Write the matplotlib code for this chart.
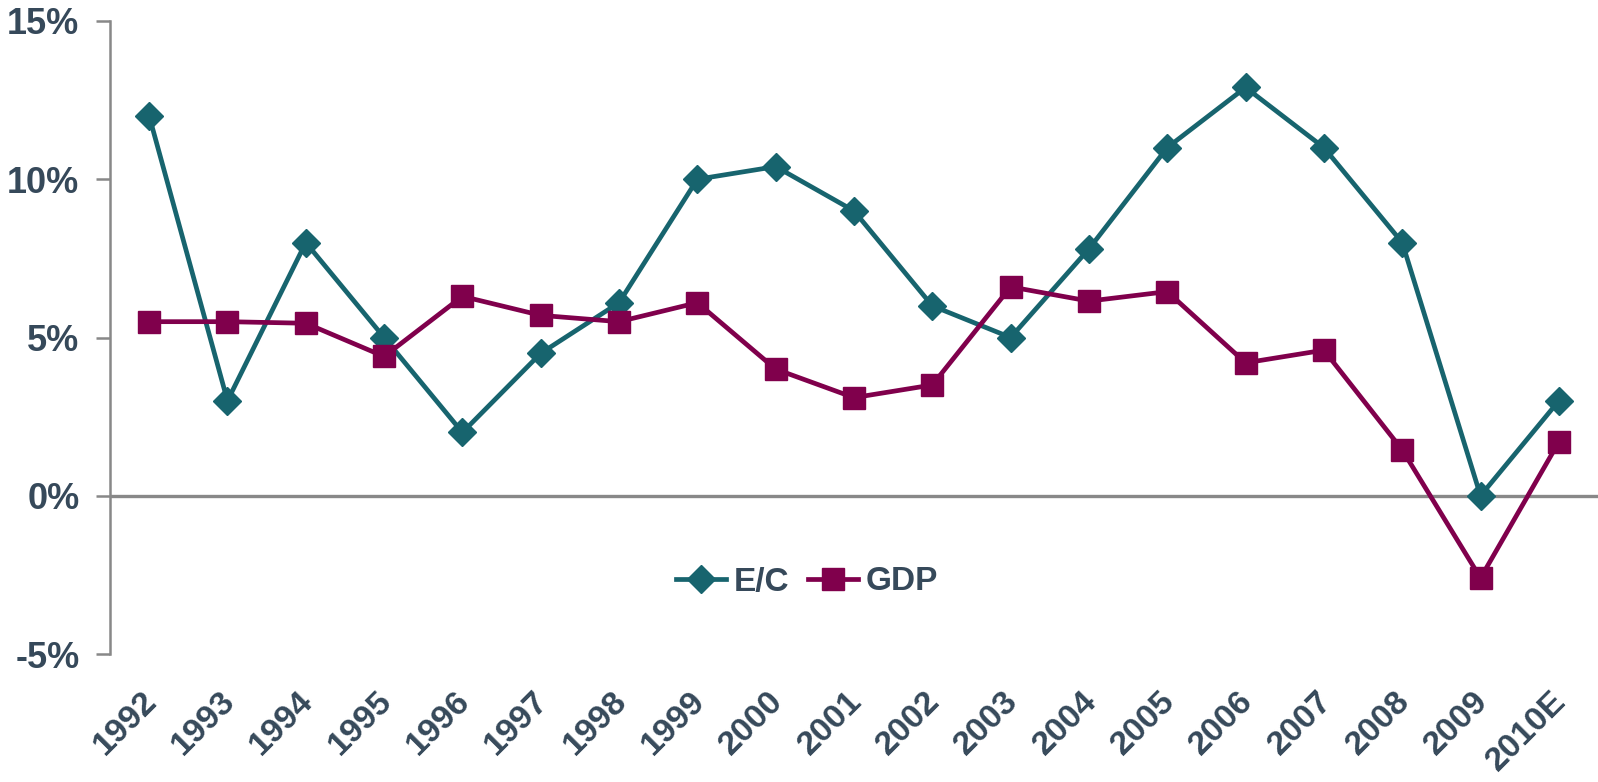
import matplotlib
matplotlib.use("Agg")
import matplotlib.pyplot as plt
from matplotlib.transforms import ScaledTranslation

# ---------- données ----------
years = ["1992", "1993", "1994", "1995", "1996", "1997", "1998", "1999", "2000",
         "2001", "2002", "2003", "2004", "2005", "2006", "2007", "2008", "2009", "2010E"]
ec = [12.0, 3.0, 8.0, 5.0, 2.0, 4.5, 6.1, 10.0, 10.4, 9.0, 6.0, 5.0, 7.8, 11.0,
      12.9, 11.0, 8.0, 0.0, 3.0]
gdp = [5.5, 5.5, 5.45, 4.4, 6.3, 5.7, 5.5, 6.1, 4.0, 3.1, 3.5, 6.6, 6.15, 6.45,
       4.2, 4.6, 1.45, -2.6, 1.7]
yticks = [-5, 0, 5, 10, 15]

TEAL = "#17646E"
MAROON = "#80004C"
TXT = "#36495A"
GREY = "#888888"

plt.rcParams["font.family"] = ["Liberation Sans", "DejaVu Sans"]

fig = plt.figure(figsize=(15.98, 7.82), dpi=100)
ax = fig.add_axes([110 / 1598, 1 - 654 / 782, 1 - 110 / 1598, (654 - 21) / 782])

x = range(len(years))
ax.axhline(0, color=GREY, lw=2.4, zorder=1)
ax.plot(x, ec, color=TEAL, lw=3.4, marker="D", ms=14, mec=TEAL, label="E/C", zorder=3)
ax.plot(x, gdp, color=MAROON, lw=3.4, marker="s", ms=15.5, mec=MAROON, label="GDP", zorder=3)

ax.set_xlim(-0.5, len(years) - 0.5)
ax.set_ylim(-5, 15)
ax.set_yticks(yticks)
ax.set_yticklabels([f"{v}%" for v in yticks], fontsize=26, fontweight="bold", color=TXT)
ax.set_xticks(list(x))
ax.set_xticklabels(years, rotation=45, ha="right", rotation_mode="anchor",
                   fontsize=24.5, fontweight="bold", color=TXT)
ax.tick_params(axis="x", length=0, pad=23)
ax.tick_params(axis="y", length=10, width=1.8, color=GREY, pad=12)
# petit décalage à gauche des années
shift = ScaledTranslation(-8 / 100, 0, fig.dpi_scale_trans)
for lab in ax.get_xticklabels():
    lab.set_transform(lab.get_transform() + shift)

for s in ["top", "right", "bottom"]:
    ax.spines[s].set_visible(False)
ax.spines["left"].set_color(GREY)
ax.spines["left"].set_linewidth(1.8)

# légende centrée sous le zéro
ax.legend(loc="center", bbox_to_anchor=(807 / 1598, 1 - 582 / 782),
          bbox_transform=fig.transFigure, ncol=2, frameon=False,
          prop={"size": 24, "weight": "bold"}, handlelength=1.5,
          columnspacing=0.55, handletextpad=0.25, labelcolor=TXT)

fig.savefig("out.png", dpi=100)
